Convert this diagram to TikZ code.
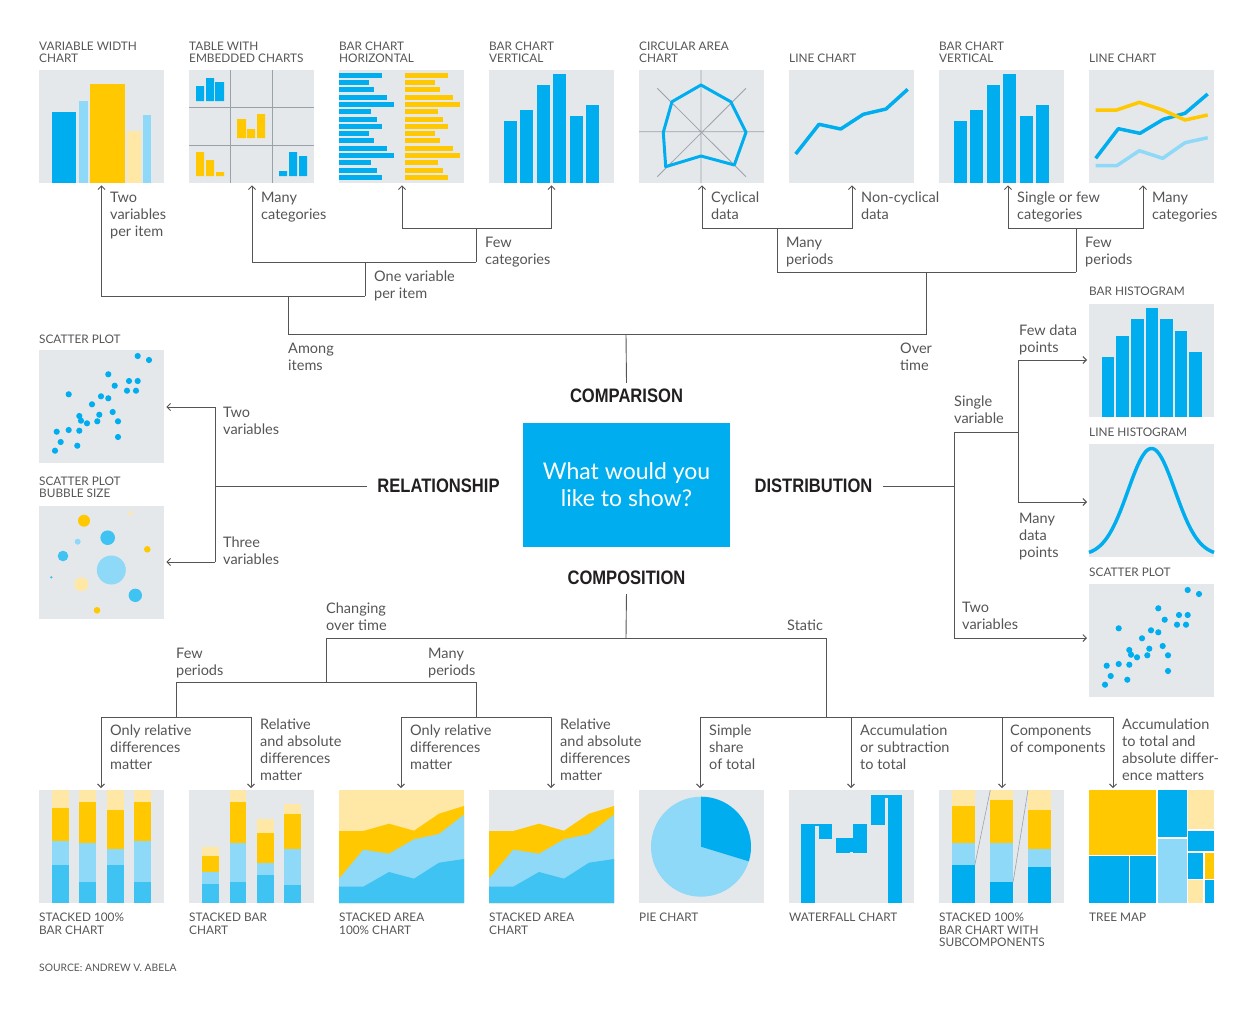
\documentclass[tikz,border=0pt]{standalone}
\usepackage{fontspec}
\setmainfont{Lato}
\newfontfamily\headfont{Liberation Sans}[FakeStretch=0.85]
\usetikzlibrary{arrows.meta}
\definecolor{cblue}{HTML}{00AEEF}
\definecolor{cmblue}{HTML}{3EC3F3}
\definecolor{clblue}{HTML}{8ED8F8}
\definecolor{cyel}{HTML}{FFC800}
\definecolor{clyel}{HTML}{FFE8A5}
\definecolor{tilebg}{HTML}{E5E8EB}
\definecolor{txt}{HTML}{555557}
\definecolor{lineg}{HTML}{555557}
\definecolor{gridc}{HTML}{9AA2A9}
\definecolor{headc}{HTML}{231F20}
\begin{document}
\begin{tikzpicture}[x=1pt,y=-1pt,
  tile/.style={fill=tilebg,minimum width=125pt,minimum height=113pt,inner sep=0pt,anchor=north west},
  ttl/.style={font=\fontsize{11.8}{12.3}\selectfont,text=txt,align=left,inner sep=0pt,anchor=base west},
  lab/.style={font=\fontsize{14.5}{17}\selectfont,text=txt,align=left,inner sep=0pt,anchor=base west},
  head/.style={font=\headfont\bfseries\fontsize{19.5}{22}\selectfont,text=headc,inner xsep=10pt,inner ysep=6pt},
  conn/.style={draw=lineg,line width=0.9pt},
  arr/.style={conn,-{Straight Barb[length=3.5pt,width=7pt]},shorten >=2pt}]
\useasboundingbox (0,0) rectangle (1259,1013);

% ---------- tiles ----------
\node[tile] (vw) at (39,70) {};
\node[tile] (tab) at (189,70) {};
\node[tile] (hbar) at (339,70) {};
\node[tile] (vbar) at (489,70) {};
\node[tile] (circ) at (639,70) {};
\node[tile] (line1) at (789,70) {};
\node[tile] (vbar2) at (939,70) {};
\node[tile] (line2) at (1089,70) {};
\node[tile] (scat1) at (39,350) {};
\node[tile] (bub) at (39,506) {};
\node[tile] (hist) at (1089,304) {};
\node[tile] (lhist) at (1089,444) {};
\node[tile] (scat2) at (1089,584) {};
\node[tile] (st100) at (39,790) {};
\node[tile] (stbar) at (189,790) {};
\node[tile,fill=clyel] (sa100) at (339,790) {};
\node[tile] (sa) at (489,790) {};
\node[tile] (pie) at (639,790) {};
\node[tile] (wf) at (789,790) {};
\node[tile] (sub) at (939,790) {};
\node[tile,fill=white] (tree) at (1089,790) {};

% variable width
\begin{scope}[shift={(vw.north west)}]
\fill[cblue] (13,42) rectangle (37,113);
\fill[clblue] (40,31) rectangle (49,113);
\fill[cyel] (51,14) rectangle (86,113);
\fill[clyel] (88,61) rectangle (102,113);
\fill[clblue] (104,45) rectangle (112,113);
\end{scope}
% table with embedded charts
\begin{scope}[shift={(tab.north west)}]
\draw[gridc,line width=0.8pt] (41,0) -- (41,113) (83,0) -- (83,113) (0,37) -- (125,37) (0,75) -- (125,75);
\fill[cblue] (7,16) rectangle (15,31) (17,8) rectangle (25,31) (26,12) rectangle (35,31);
\fill[cyel] (48,49) rectangle (57,68) (58,59) rectangle (66,68) (68,44) rectangle (76,68);
\fill[cyel] (7,82) rectangle (15,106) (17,90) rectangle (25,106) (27,102) rectangle (35,106);
\fill[cblue] (90,101) rectangle (98,106) (100,82) rectangle (108,106) (110,86) rectangle (118,106);
\end{scope}
% horizontal bars
\begin{scope}[shift={(hbar.north west)}]
\foreach \b [count=\i from 0] in {43,30,35,48,55,32,38,43,30,35,48,55,32,38,43}
  \fill[cblue] (0,2.7+\i*7.3) rectangle (\b,7.7+\i*7.3);
\foreach \b [count=\i from 0] in {109,96,101,114,121,99,104,109,96,101,114,121,99,104,109}
  \fill[cyel] (66,2.7+\i*7.3) rectangle (\b,7.7+\i*7.3);
\end{scope}
% vertical bars
\foreach \t in {vbar,vbar2}{
\begin{scope}[shift={(\t.north west)}]
\foreach \a/\h in {14.7/50.7,31.3/40.3,48/14.7,64.3/3.7,81/46,97.3/35.3}
  \fill[cblue] (\a,\h) rectangle (\a+13,113);
\end{scope}}
% circular area
\begin{scope}[shift={(circ.north west)}]
\draw[gridc,line width=0.8pt] (0,61.7) -- (125,61.7) (62,0) -- (62,113) (18.3,18.3) -- (107,106.7) (107,18.3) -- (18.3,106.7);
\draw[cblue,line width=3pt,line join=round] (62,15) -- (91.7,31.7) -- (107,62.3) -- (95.3,95) -- (62,86) -- (26.7,96.7) -- (24.3,62.3) -- (33,31.7) -- cycle;
\end{scope}
% line chart
\begin{scope}[shift={(line1.north west)}]
\draw[cblue,line width=3.5pt,line join=round] (6.7,84) -- (30,54.3) -- (51.7,59) -- (74.3,44.3) -- (97,39) -- (118.7,19.3);
\end{scope}
% line chart many
\begin{scope}[shift={(line2.north west)}]
\draw[clblue,line width=3.5pt,line join=round] (6.7,95.7) -- (27.7,95.7) -- (50.3,80.7) -- (73.7,88.3) -- (96,72.7) -- (118.7,67.7);
\draw[cblue,line width=3.5pt,line join=round] (6.7,88.3) -- (29.3,58.7) -- (51,63.3) -- (74.3,49.3) -- (96,43.3) -- (118.7,24);
\draw[cyel,line width=3.5pt,line join=round] (6.7,40) -- (27.7,40) -- (50.3,32.3) -- (73.7,40) -- (96,50) -- (118.7,45);
\end{scope}
% scatter plots
\foreach \t in {scat1,scat2}{
\begin{scope}[shift={(\t.north west)}]
\foreach \p in {(98.7,6),(110,10),(69.3,24.3),(90,31),(98.7,31),(75.7,35.7),(88,40.7),(97,40.7),(29.7,44.3),(62,46.3),(69.3,48.3),(53,54.3),(73.7,62),(60.3,64.7),(40.3,66),(42,70.7),(48,73.3),(58.3,71.3),(79,71.3),(17.7,81.7),(29.7,80),(40.3,80.7),(21.7,92),(79,87),(38.3,95.7),(16,100.7)}
  \fill[cblue] \p circle[radius=3.1pt];
\end{scope}}
% bubbles
\begin{scope}[shift={(bub.north west)}]
\foreach \x/\y/\r/\c in {45/14.7/6/cyel,91.7/7.3/2/clyel,68.7/31.7/7.3/cmblue,38.7/35.7/3/clblue,108.3/43.3/3.3/cyel,24/50/5.3/cmblue,72.3/64/14.5/clblue,12.3/71.3/1.3/cmblue,42.3/78.3/7/clyel,96.3/89.3/6.7/cmblue,58/104.3/3.3/cyel}
  \fill[\c] (\x,\y) circle[radius=\r pt];
\end{scope}
% bar histogram
\begin{scope}[shift={(hist.north west)}]
\foreach \a/\b/\h in {12.7/25.3/53.3,27.3/40/32,42/54.7/15,56.7/69.3/4,71.3/84/15,85.7/98.3/27,100.3/112.7/48}
  \fill[cblue] (\a,\h) rectangle (\b,113);
\end{scope}
% line histogram
\begin{scope}[shift={(lhist.north west)}]
\draw[cblue,line width=3.5pt] plot[domain=0:125,samples=90,smooth] (\x,{111.5-107*exp(-((\x-62.5)^2)/(2*23.5^2))});
\end{scope}
% stacked 100
\begin{scope}[shift={(st100.north west)}]
\foreach \x/\p/\q/\r in {13/18/51.3/75,40.3/11.7/53.3/92,68/20.3/59.3/75,95.3/11.7/51.3/92}{
  \fill[clyel] (\x,0) rectangle (\x+16.6,\p);
  \fill[cyel] (\x,\p) rectangle (\x+16.6,\q);
  \fill[clblue] (\x,\q) rectangle (\x+16.6,\r);
  \fill[cmblue] (\x,\r) rectangle (\x+16.6,113);}
\end{scope}
% stacked bar
\begin{scope}[shift={(stbar.north west)}]
\foreach \x/\o/\p/\q/\r in {13.3/56.7/66/82/94,40.7/0/11.7/53.3/92,68/29/43.3/72.7/85,95.3/14/23.7/59/95}{
  \fill[clyel] (\x,\o) rectangle (\x+16.6,\p);
  \fill[cyel] (\x,\p) rectangle (\x+16.6,\q);
  \fill[clblue] (\x,\q) rectangle (\x+16.6,\r);
  \fill[cmblue] (\x,\r) rectangle (\x+16.6,113);}
\end{scope}
% stacked areas
\foreach \t in {sa100,sa}{
\begin{scope}[shift={(\t.north west)}]
\fill[cyel] (0,41) -- (24.3,41) -- (50,33.7) -- (75,40.7) -- (100,23.7) -- (125,16) -- (125,113) -- (0,113) -- cycle;
\fill[clblue] (0,88.7) -- (24.3,59.7) -- (50,63.7) -- (75,49.3) -- (100,44) -- (125,24.7) -- (125,113) -- (0,113) -- cycle;
\fill[cmblue] (0,96.7) -- (24.3,96.7) -- (50,82) -- (75,88.7) -- (100,72.7) -- (125,69) -- (125,113) -- (0,113) -- cycle;
\end{scope}}
% pie
\begin{scope}[shift={(pie.north west)}]
\fill[clblue] (62,56.7) circle[radius=50pt];
\fill[cblue] (62,56.7) -- ++(90:50pt) arc[start angle=90,end angle=-17,radius=50pt] -- cycle;
\end{scope}
% waterfall
\begin{scope}[shift={(wf.north west)}]
\fill[cblue] (12.3,33.7) rectangle (26,113);
\fill[cblue] (26,33.7) rectangle (43.3,36);
\fill[cblue] (30,33.7) rectangle (43.3,49.3);
\fill[cblue] (47,47.7) rectangle (61,63.3);
\fill[cblue] (61,47.7) rectangle (64.3,61.5);
\fill[cblue] (64.3,33.7) rectangle (77.7,63.3);
\fill[cblue] (81.7,5) rectangle (96,35);
\fill[cblue] (96,5) rectangle (98.7,7.5);
\fill[cblue] (98.7,5) rectangle (113,113);
\end{scope}
% stacked with subcomponents
\begin{scope}[shift={(sub.north west)}]
\foreach \x/\p/\q/\r in {13/16/53.3/75,51.3/10/53.3/92,89/20.3/59/77}{
  \fill[clyel] (\x,0) rectangle (\x+22.8,\p);
  \fill[cyel] (\x,\p) rectangle (\x+22.8,\q);
  \fill[clblue] (\x,\q) rectangle (\x+22.8,\r);
  \fill[cblue] (\x,\r) rectangle (\x+22.8,113);}
\draw[gridc,line width=0.6pt] (35.8,75) -- (51.3,0) (74.1,92) -- (89,0);
\end{scope}
% tree map
\begin{scope}[shift={(tree.north west)}]
\fill[cyel] (0,0) rectangle (67.3,65);
\fill[cblue] (0,66.3) rectangle (40,113);
\fill[cblue] (41.3,66.3) rectangle (67.3,113);
\fill[cblue] (68.7,0) rectangle (98,47.3);
\fill[clblue] (68.7,48.7) rectangle (98,113);
\fill[clyel] (99.3,0) rectangle (125,39.3);
\fill[cblue] (99.3,40.7) rectangle (125,61.3);
\fill[cblue] (99.3,62.7) rectangle (114.3,88.7);
\fill[cyel] (115.7,62.7) rectangle (125,88.7);
\fill[clyel] (99.3,90) rectangle (114.3,113);
\fill[cblue] (115.7,90) rectangle (125,113);
\end{scope}

% ---------- titles (anchor = baseline of last line) ----------
\node[ttl] (t1) at (39,62.3) {VARIABLE WIDTH\\CHART};
\node[ttl] (t2) at (189,62.3) {TABLE WITH\\EMBEDDED CHARTS};
\node[ttl] (t3) at (339,62.3) {BAR CHART\\HORIZONTAL};
\node[ttl] (t4) at (489,62.3) {BAR CHART\\VERTICAL};
\node[ttl] (t5) at (639,62.3) {CIRCULAR AREA\\CHART};
\node[ttl] (t6) at (789,62.3) {LINE CHART};
\node[ttl] (t7) at (939,62.3) {BAR CHART\\VERTICAL};
\node[ttl] (t8) at (1089,62.3) {LINE CHART};
\node[ttl] (t9) at (39,343.5) {SCATTER PLOT};
\node[ttl] (t10) at (39,497.3) {SCATTER PLOT\\BUBBLE SIZE};
\node[ttl] (t11) at (1089,295.5) {BAR HISTOGRAM};
\node[ttl] (t12) at (1089,436) {LINE HISTOGRAM};
\node[ttl] (t13) at (1089,576) {SCATTER PLOT};
\node[ttl] (t14) at (39,934) {STACKED 100\%\\BAR CHART};
\node[ttl] (t15) at (189,934) {STACKED BAR\\CHART};
\node[ttl] (t16) at (339,934) {STACKED AREA\\100\% CHART};
\node[ttl] (t17) at (489,934) {STACKED AREA\\CHART};
\node[ttl] (t18) at (639,921.7) {PIE CHART};
\node[ttl] (t19) at (789,921.7) {WATERFALL CHART};
\node[ttl] (t20) at (939,946.3) {STACKED 100\%\\BAR CHART WITH\\SUBCOMPONENTS};
\node[ttl] (t21) at (1089,921.7) {TREE MAP};
\node[ttl,font=\fontsize{10.3}{11}\selectfont] (src) at (39,971.5) {SOURCE: ANDREW V. ABELA};

% ---------- centre ----------
\node[fill=cblue,minimum width=207pt,minimum height=124pt,inner sep=0pt,text=white,align=center,font=\fontsize{23}{27}\selectfont] (q) at (626.5,485) {What would you\\like to show?};
\node[head] (cmp) at (626.5,396) {COMPARISON};
\node[head] (rel) at (438.5,486) {RELATIONSHIP};
\node[head] (dist) at (813.5,486) {DISTRIBUTION};
\node[head] (compo) at (626.5,578) {COMPOSITION};

% ---------- coordinates ----------
\coordinate (cmpT) at (626,334);
\coordinate (cmpL) at (288,334);
\coordinate (cmpR) at (926,334);
\coordinate (amL) at (288,296);
\coordinate (ovR) at (926,272);
\coordinate (ai1) at (101.5,296);
\coordinate (ai2) at (365,296);
\coordinate (ov1) at (365,262);
\coordinate (mc1) at (252,262);
\coordinate (fc0) at (476,262);
\coordinate (fc1) at (476,228);
\coordinate (fcL) at (402,228);
\coordinate (fcR) at (551.5,228);
\coordinate (ot1) at (777,272);
\coordinate (ot2) at (1076,272);
\coordinate (mp1) at (777,228);
\coordinate (mpL) at (702,228);
\coordinate (mpR) at (852,228);
\coordinate (fp1) at (1076,228);
\coordinate (fpL) at (1008,228);
\coordinate (fpR) at (1143,228);
\coordinate (rj) at (215,486);
\coordinate (rT) at (215,407);
\coordinate (rB) at (215,562);
\coordinate (dj) at (954,486);
\coordinate (dT) at (954,432);
\coordinate (dB) at (954,638);
\coordinate (sv) at (1018,432);
\coordinate (sT) at (1018,360);
\coordinate (sB) at (1018,502);
\coordinate (cpT) at (626,638);
\coordinate (cpL) at (326,638);
\coordinate (cpR) at (826,638);
\coordinate (cpL2) at (326,682);
\coordinate (fpl) at (176,682);
\coordinate (mpl) at (476,682);
\coordinate (fpl2) at (176,717);
\coordinate (mpl2) at (476,717);
\coordinate (a1) at (101,717);
\coordinate (a2) at (251,717);
\coordinate (a3) at (401,717);
\coordinate (a4) at (551,717);
\coordinate (cpR2) at (826,717);
\coordinate (s1) at (700,717);
\coordinate (s2) at (851,717);
\coordinate (s3) at (1002,717);
\coordinate (s4) at (1113,717);

% ---------- connectors ----------
\draw[conn] (cmp.north) -- (cmpT);
\draw[conn] (amL) -- (cmpL) -- (cmpR) -- (ovR);
\draw[arr] (ai2) -- (ai1) -- (ai1 |- vw.south);
\draw[conn] (ov1) -- (ai2);
\draw[arr] (fc0) -- (mc1) -- (mc1 |- tab.south);
\draw[conn] (fc0) -- (fc1);
\draw[arr] (fc1) -- (fcL) -- (fcL |- hbar.south);
\draw[arr] (fc1) -- (fcR) -- (fcR |- vbar.south);
\draw[conn] (ot1) -- (ot2);
\draw[conn] (ot1) -- (mp1);
\draw[arr] (mp1) -- (mpL) -- (mpL |- circ.south);
\draw[arr] (mp1) -- (mpR) -- (mpR |- line1.south);
\draw[conn] (ot2) -- (fp1);
\draw[arr] (fp1) -- (fpL) -- (fpL |- vbar2.south);
\draw[arr] (fp1) -- (fpR) -- (fpR |- line2.south);

\draw[conn] (rel.west) -- (rj);
\draw[conn] (rT) -- (rB);
\draw[arr] (rT) -- (rT -| scat1.east);
\draw[arr] (rB) -- (rB -| bub.east);

\draw[conn] (dist.east) -- (dj);
\draw[conn] (dT) -- (dB);
\draw[conn] (dT) -- (sv);
\draw[conn] (sT) -- (sB);
\draw[arr] (sT) -- (sT -| hist.west);
\draw[arr] (sB) -- (sB -| lhist.west);
\draw[arr] (dB) -- (dB -| scat2.west);

\draw[conn,shorten <=3pt] (compo.south) -- (cpT);
\draw[conn] (cpL2) -- (cpL) -- (cpR) -- (cpR2);
\draw[conn] (fpl2) -- (fpl) -- (mpl) -- (mpl2);
\draw[arr] (fpl2) -- (a1) -- (a1 |- st100.north);
\draw[arr] (fpl2) -- (a2) -- (a2 |- stbar.north);
\draw[arr] (mpl2) -- (a3) -- (a3 |- sa100.north);
\draw[arr] (mpl2) -- (a4) -- (a4 |- sa.north);
\draw[arr] (cpR2) -- (s1) -- (s1 |- pie.north);
\draw[arr] (s2) -- (s2 |- wf.north);
\draw[arr] (s3) -- (s3 |- sub.north);
\draw[arr] (cpR2) -- (s4) -- (s4 |- tree.north);

% ---------- labels (anchor = baseline of last line) ----------
\node[lab] (l1) at (110,236) {Two\\variables\\per item};
\node[lab] (l2) at (261,219) {Many\\categories};
\node[lab] (l3) at (485,264) {Few\\categories};
\node[lab] (l4) at (374,298) {One variable\\per item};
\node[lab] (l5) at (711,219) {Cyclical\\data};
\node[lab] (l6) at (861,219) {Non-cyclical\\data};
\node[lab] (l7) at (786,264) {Many\\periods};
\node[lab] (l8) at (1017,219) {Single or few\\categories};
\node[lab] (l9) at (1152,219) {Many\\categories};
\node[lab] (l10) at (1085,264) {Few\\periods};
\node[lab] (l11) at (288,370) {Among\\items};
\node[lab] (l12) at (900,370) {Over\\time};
\node[lab] (l13) at (223,434) {Two\\variables};
\node[lab] (l14) at (223,564) {Three\\variables};
\node[lab] (l15) at (954,423) {Single\\variable};
\node[lab] (l16) at (1019,352) {Few data\\points};
\node[lab] (l17) at (1019,557) {Many\\data\\points};
\node[lab] (l18) at (962,629) {Two\\variables};
\node[lab] (l19) at (326,630) {Changing\\over time};
\node[lab] (l20) at (787,630) {Static};
\node[lab] (l21) at (176,675) {Few\\periods};
\node[lab] (l22) at (428,675) {Many\\periods};
\node[lab] (l23) at (110,769) {Only relative\\differences\\matter};
\node[lab] (l24) at (260,780) {Relative\\and absolute\\differences\\matter};
\node[lab] (l25) at (410,769) {Only relative\\differences\\matter};
\node[lab] (l26) at (560,780) {Relative\\and absolute\\differences\\matter};
\node[lab] (l27) at (709,769) {Simple\\share\\of total};
\node[lab] (l28) at (860,769) {Accumulation\\or subtraction\\to total};
\node[lab] (l29) at (1010,752) {Components\\of components};
\node[lab] (l30) at (1122,780) {Accumulation\\to total and\\absolute differ-\\ence matters};
\end{tikzpicture}
\end{document}
